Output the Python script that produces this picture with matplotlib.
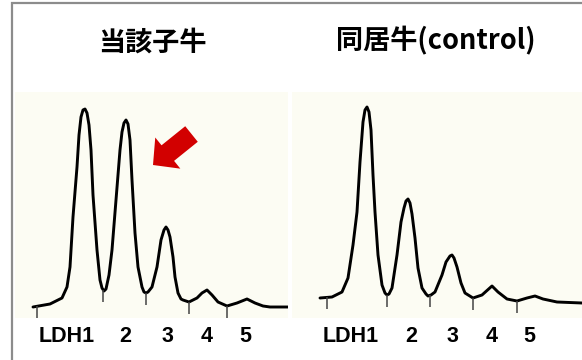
import numpy as np
import matplotlib
matplotlib.use("Agg")
import matplotlib.pyplot as plt
from matplotlib.patches import FancyArrow

# densitometry traces (position, density)
calf_x = [18, 35, 47, 52, 55, 58, 62, 64, 66, 68, 70, 72, 74, 76, 78, 82, 85, 87, 89, 91,
          94, 97, 101, 105, 107, 109, 111, 113, 115, 117, 120, 123, 127, 129, 131, 133, 137,
          142, 146, 149, 151, 153, 155, 158, 160, 163, 166, 168,
          174, 182, 187, 192, 197, 203, 212, 222, 232, 240, 248, 255, 273]
calf_y = [13, 16, 22, 33, 53, 103, 153, 185, 203, 210, 211, 207, 195, 170, 125, 70, 40, 32, 29, 31,
          45, 70, 120, 170, 188, 197, 200, 196, 180, 140, 87, 53, 33, 28, 27, 28, 33,
          53, 80, 90, 93, 90, 83, 63, 43, 27, 21, 20,
          18, 22, 27, 30, 25, 18, 14, 17, 21, 17, 14, 13, 13]
calf_ticks = [22, 88, 131, 174, 212]

ctrl_x = [28, 40, 50, 56, 61, 65, 68, 71, 73, 75, 77, 79, 81, 83, 86, 90, 93, 95, 97, 100,
          105, 109, 112, 114, 116, 118, 120, 123, 126, 130, 134, 136, 139, 143, 150, 154, 158,
          160, 162, 165, 169, 173, 181, 190, 200, 206, 215, 225, 235,
          243, 251, 265, 290]
ctrl_y = [22, 23, 28, 42, 75, 108, 158, 198, 210, 213, 208, 190, 145, 108, 65, 35, 27, 25, 26, 32,
          65, 98, 112, 119, 121, 117, 106, 82, 52, 32, 26, 24, 25, 28, 45, 58, 64,
          65, 62, 53, 37, 27, 22, 25, 34, 28, 21, 19, 22,
          24, 21, 18, 17]
ctrl_ticks = [35, 95, 138, 181, 225]

band_labels = ["LDH1", "2", "3", "4", "5"]
calf_label_x = [52, 110, 152, 192, 230]
ctrl_label_x = [59, 119, 160, 200, 237]

W, H = 582, 360
fig = plt.figure(figsize=(W / 100, H / 100), dpi=100)
fig.patch.set_facecolor("white")

cream = "#fcfcf3"
cjk = ["Noto Sans CJK JP", "DejaVu Sans"]

# frame lines (grey border at left and top)
frame = fig.add_axes([0, 0, 1, 1], zorder=0)
frame.set_xlim(0, W)
frame.set_ylim(H, 0)
frame.axis("off")
frame.plot([12, 12, W], [H, 3, 3], color="#8c8c8c", lw=1.6, solid_joinstyle="miter")


def panel(left_px, right_px, xs, ys, ticks, lab_x):
    ax = fig.add_axes([left_px / W, 1 - 318 / H, (right_px - left_px) / W, (318 - 92) / H])
    ax.set_facecolor(cream)
    ax.set_xlim(0, right_px - left_px)
    ax.set_ylim(2, 228)
    for s in ax.spines.values():
        s.set_visible(False)
    ax.set_xticks([])
    ax.set_yticks([])
    ax.plot(xs, ys, color="black", lw=2.1, solid_joinstyle="round", solid_capstyle="round")
    tops = np.interp(ticks, xs, ys)
    ax.vlines(ticks, tops - 12, tops, color="#444444", lw=1.1)
    for x, t in zip(lab_x, band_labels):
        ax.text(x, -17, t, ha="center", va="center", fontsize=15.5, fontweight="bold",
                family="Liberation Sans", clip_on=False)
    return ax


ax1 = panel(15, 288, calf_x, calf_y, calf_ticks, calf_label_x)
ax2 = panel(292, W, ctrl_x, ctrl_y, ctrl_ticks, ctrl_label_x)

# red arrow pointing at the LDH2 peak
ax1.add_patch(FancyArrow(176.5, 186, -38.5, -31, width=20, head_width=40, head_length=19,
                         length_includes_head=True, color="#d20000", lw=0))

fig.text(152 / W, 1 - 43 / H, "当該子牛", ha="center", va="center", fontsize=19.5,
         fontweight="bold", family=cjk)
fig.text(436 / W, 1 - 41 / H, "同居牛(control)", ha="center", va="center", fontsize=19.5,
         fontweight="bold", family=cjk)

fig.savefig("out.png", dpi=100)
